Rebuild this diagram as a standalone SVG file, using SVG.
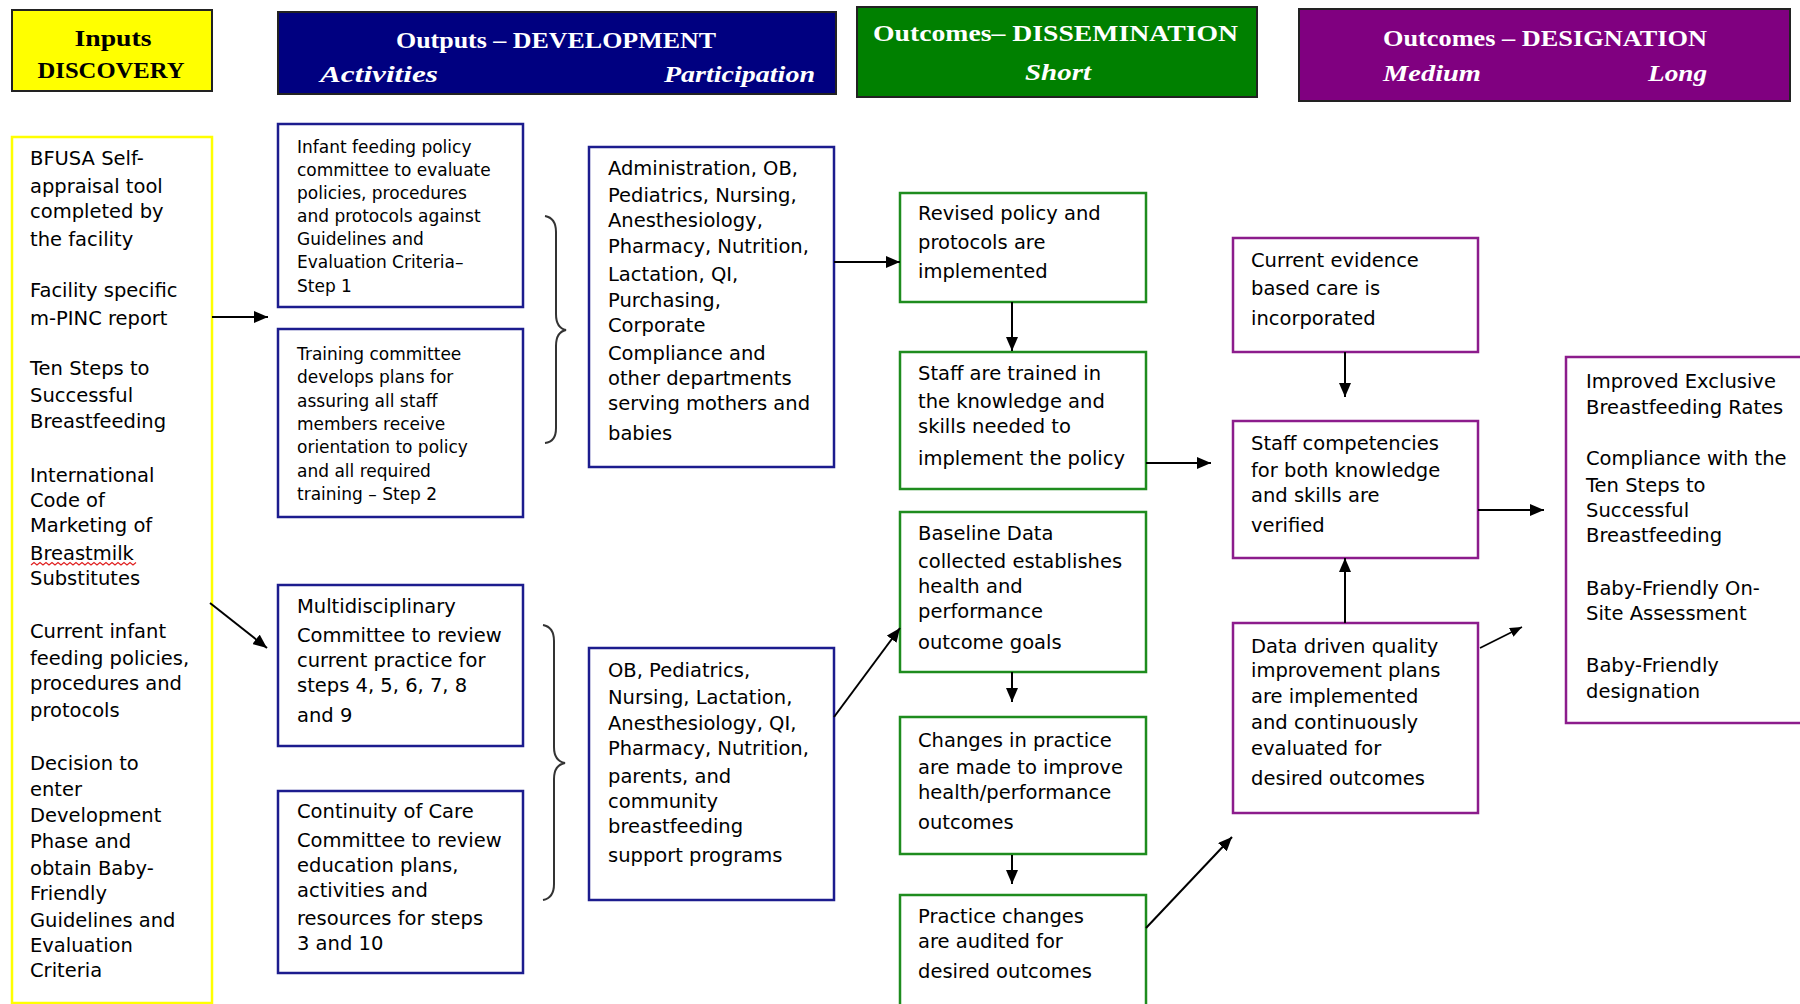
<svg xmlns="http://www.w3.org/2000/svg" width="1800" height="1004" viewBox="0 0 1800 1004">
<style>
.t{font-family:"DejaVu Sans","Liberation Sans",sans-serif;font-size:19.5px;fill:#000}
.ts{font-family:"DejaVu Sans","Liberation Sans",sans-serif;font-size:17px;fill:#000}
.h{font-family:"Liberation Serif","Times New Roman",serif;font-size:24px;font-weight:bold}
.hi{font-family:"Liberation Serif","Times New Roman",serif;font-size:24px;font-weight:bold;font-style:italic}
.w{fill:#fff}
.k{fill:#000}
.bb{fill:#fff;stroke:#1c1c8e;stroke-width:2.5}
.gb{fill:#fff;stroke:#1e8c1e;stroke-width:2.5}
.pb{fill:#fff;stroke:#8c1c8c;stroke-width:2.5}
.yb{fill:#fff;stroke:#ffff00;stroke-width:2.5}
.hb{stroke:#222;stroke-width:2}
.c{fill:none;stroke:#000;stroke-width:2;marker-end:url(#ah)}
.br{fill:none;stroke:#333;stroke-width:2}
</style>
<defs>
<marker id="ah" markerUnits="userSpaceOnUse" markerWidth="15" markerHeight="12" refX="14" refY="6" orient="auto">
<path d="M0,0 L14,6 L0,12 z" fill="#000"/>
</marker>
<marker id="ahs" markerUnits="userSpaceOnUse" markerWidth="13" markerHeight="10" refX="12" refY="5" orient="auto">
<path d="M0,0 L12,5 L0,10 z" fill="#000"/>
</marker>
</defs>
<rect width="1800" height="1004" fill="#fff"/>

<g id="hdr-inputs">
<rect x="12" y="10" width="200" height="81" fill="#ffff00" class="hb"/>
<text class="h k" x="113" y="46" text-anchor="middle" textLength="77" lengthAdjust="spacingAndGlyphs">Inputs</text>
<text class="h k" x="111" y="78" text-anchor="middle" textLength="147" lengthAdjust="spacingAndGlyphs">DISCOVERY</text>
</g>
<g id="hdr-outputs">
<rect x="278" y="12" width="558" height="82" fill="#000080" class="hb"/>
<text class="h w" x="396" y="48" textLength="320" lengthAdjust="spacingAndGlyphs">Outputs – DEVELOPMENT</text>
<text class="hi w" x="320" y="82" textLength="118" lengthAdjust="spacingAndGlyphs">Activities</text>
<text class="hi w" x="664" y="82" textLength="151" lengthAdjust="spacingAndGlyphs">Participation</text>
</g>
<g id="hdr-short">
<rect x="857" y="7" width="400" height="90" fill="#008000" class="hb"/>
<text class="h w" x="873" y="41" textLength="365" lengthAdjust="spacingAndGlyphs">Outcomes– DISSEMINATION</text>
<text class="hi w" x="1025" y="80" textLength="66" lengthAdjust="spacingAndGlyphs">Short</text>
</g>
<g id="hdr-designation">
<rect x="1299" y="9" width="491" height="92" fill="#800080" class="hb"/>
<text class="h w" x="1383" y="46" textLength="324" lengthAdjust="spacingAndGlyphs">Outcomes – DESIGNATION</text>
<text class="hi w" x="1383" y="81" textLength="98" lengthAdjust="spacingAndGlyphs">Medium</text>
<text class="hi w" x="1648" y="81" textLength="59" lengthAdjust="spacingAndGlyphs">Long</text>
</g>

<g id="inputs">
<rect x="12" y="137" width="200" height="866" class="yb"/>
<text class="t">
<tspan x="30" y="165">BFUSA Self-</tspan>
<tspan x="30" y="193">appraisal tool</tspan>
<tspan x="30" y="218">completed by</tspan>
<tspan x="30" y="246">the facility</tspan>
<tspan x="30" y="297">Facility specific</tspan>
<tspan x="30" y="325">m-PINC report</tspan>
<tspan x="30" y="375">Ten  Steps to</tspan>
<tspan x="30" y="402">Successful</tspan>
<tspan x="30" y="428">Breastfeeding</tspan>
<tspan x="30" y="482">International</tspan>
<tspan x="30" y="507">Code of</tspan>
<tspan x="30" y="532">Marketing of</tspan>
<tspan x="30" y="560">Breastmilk</tspan>
<tspan x="30" y="585">Substitutes</tspan>
<tspan x="30" y="638">Current infant</tspan>
<tspan x="30" y="665">feeding policies,</tspan>
<tspan x="30" y="690">procedures and</tspan>
<tspan x="30" y="717">protocols</tspan>
<tspan x="30" y="770">Decision to</tspan>
<tspan x="30" y="796">enter</tspan>
<tspan x="30" y="822">Development</tspan>
<tspan x="30" y="848">Phase and</tspan>
<tspan x="30" y="875">obtain  Baby-</tspan>
<tspan x="30" y="900">Friendly</tspan>
<tspan x="30" y="927">Guidelines and</tspan>
<tspan x="30" y="952">Evaluation</tspan>
<tspan x="30" y="977">Criteria</tspan>
</text>
<path d="M31,565 l3,-2.5 l3,2.5 l3,-2.5 l3,2.5 l3,-2.5 l3,2.5 l3,-2.5 l3,2.5 l3,-2.5 l3,2.5 l3,-2.5 l3,2.5 l3,-2.5 l3,2.5 l3,-2.5 l3,2.5 l3,-2.5 l3,2.5 l3,-2.5 l3,2.5 l3,-2.5 l3,2.5 l3,-2.5 l3,2.5 l3,-2.5 l3,2.5 l3,-2.5 l3,2.5 l3,-2.5 l3,2.5 l3,-2.5 l3,2.5 l3,-2.5 l3,2.5 l3,-2.5" fill="none" stroke="#e02020" stroke-width="1.2"/>
</g>

<g id="act1">
<rect x="278" y="124" width="245" height="183" class="bb"/>
<text class="ts">
<tspan x="297" y="153">Infant feeding policy</tspan>
<tspan x="297" y="176">committee to evaluate</tspan>
<tspan x="297" y="199">policies, procedures</tspan>
<tspan x="297" y="222">and protocols against</tspan>
<tspan x="297" y="245">Guidelines and</tspan>
<tspan x="297" y="268">Evaluation Criteria–</tspan>
<tspan x="297" y="292">Step 1</tspan>
</text>
</g>
<g id="act2">
<rect x="278" y="329" width="245" height="188" class="bb"/>
<text class="ts">
<tspan x="297" y="360">Training committee</tspan>
<tspan x="297" y="383">develops plans for</tspan>
<tspan x="297" y="407">assuring all staff</tspan>
<tspan x="297" y="430">members receive</tspan>
<tspan x="297" y="453">orientation to policy</tspan>
<tspan x="297" y="477">and all required</tspan>
<tspan x="297" y="500">training – Step 2</tspan>
</text>
</g>
<g id="act3">
<rect x="278" y="585" width="245" height="161" class="bb"/>
<text class="t">
<tspan x="297" y="613">Multidisciplinary</tspan>
<tspan x="297" y="642">Committee to review</tspan>
<tspan x="297" y="667">current practice for</tspan>
<tspan x="297" y="692">steps 4, 5, 6, 7, 8</tspan>
<tspan x="297" y="722">and 9</tspan>
</text>
</g>
<g id="act4">
<rect x="278" y="791" width="245" height="182" class="bb"/>
<text class="t">
<tspan x="297" y="818">Continuity of Care</tspan>
<tspan x="297" y="847">Committee to review</tspan>
<tspan x="297" y="872">education plans,</tspan>
<tspan x="297" y="897">activities and</tspan>
<tspan x="297" y="925">resources for steps</tspan>
<tspan x="297" y="950">3 and 10</tspan>
</text>
</g>

<g id="part1">
<rect x="589" y="147" width="245" height="320" class="bb"/>
<text class="t">
<tspan x="608" y="175">Administration, OB,</tspan>
<tspan x="608" y="202">Pediatrics, Nursing,</tspan>
<tspan x="608" y="227">Anesthesiology,</tspan>
<tspan x="608" y="253">Pharmacy, Nutrition,</tspan>
<tspan x="608" y="281">Lactation, QI,</tspan>
<tspan x="608" y="307">Purchasing,</tspan>
<tspan x="608" y="332">Corporate</tspan>
<tspan x="608" y="360">Compliance and</tspan>
<tspan x="608" y="385">other departments</tspan>
<tspan x="608" y="410">serving mothers and</tspan>
<tspan x="608" y="440">babies</tspan>
</text>
</g>
<g id="part2">
<rect x="589" y="648" width="245" height="252" class="bb"/>
<text class="t">
<tspan x="608" y="677">OB, Pediatrics,</tspan>
<tspan x="608" y="704">Nursing, Lactation,</tspan>
<tspan x="608" y="730">Anesthesiology, QI,</tspan>
<tspan x="608" y="755">Pharmacy, Nutrition,</tspan>
<tspan x="608" y="783">parents, and</tspan>
<tspan x="608" y="808">community</tspan>
<tspan x="608" y="833">breastfeeding</tspan>
<tspan x="608" y="862">support programs</tspan>
</text>
</g>

<g id="s-revised">
<rect x="900" y="193" width="246" height="109" class="gb"/>
<text class="t">
<tspan x="918" y="220">Revised policy and</tspan>
<tspan x="918" y="249">protocols are</tspan>
<tspan x="918" y="278">implemented</tspan>
</text>
</g>
<g id="s-trained">
<rect x="900" y="352" width="246" height="137" class="gb"/>
<text class="t">
<tspan x="918" y="380">Staff are trained in</tspan>
<tspan x="918" y="408">the knowledge and</tspan>
<tspan x="918" y="433">skills needed to</tspan>
<tspan x="918" y="465">implement the policy</tspan>
</text>
</g>
<g id="s-baseline">
<rect x="900" y="512" width="246" height="160" class="gb"/>
<text class="t">
<tspan x="918" y="540">Baseline  Data</tspan>
<tspan x="918" y="568">collected establishes</tspan>
<tspan x="918" y="593">health and</tspan>
<tspan x="918" y="618">performance</tspan>
<tspan x="918" y="649">outcome goals</tspan>
</text>
</g>
<g id="s-changes">
<rect x="900" y="717" width="246" height="137" class="gb"/>
<text class="t">
<tspan x="918" y="747">Changes in practice</tspan>
<tspan x="918" y="774">are made to improve</tspan>
<tspan x="918" y="799">health/performance</tspan>
<tspan x="918" y="829">outcomes</tspan>
</text>
</g>
<g id="s-audited">
<rect x="900" y="895" width="246" height="120" class="gb"/>
<text class="t">
<tspan x="918" y="923">Practice changes</tspan>
<tspan x="918" y="948">are audited for</tspan>
<tspan x="918" y="978">desired outcomes</tspan>
</text>
</g>

<g id="m-evidence">
<rect x="1233" y="238" width="245" height="114" class="pb"/>
<text class="t">
<tspan x="1251" y="267">Current evidence</tspan>
<tspan x="1251" y="295">based care is</tspan>
<tspan x="1251" y="325">incorporated</tspan>
</text>
</g>
<g id="m-competencies">
<rect x="1233" y="421" width="245" height="137" class="pb"/>
<text class="t">
<tspan x="1251" y="450">Staff competencies</tspan>
<tspan x="1251" y="477">for both knowledge</tspan>
<tspan x="1251" y="502">and skills are</tspan>
<tspan x="1251" y="532">verified</tspan>
</text>
</g>
<g id="m-datadriven">
<rect x="1233" y="623" width="245" height="190" class="pb"/>
<text class="t">
<tspan x="1251" y="653">Data driven quality</tspan>
<tspan x="1251" y="677">improvement plans</tspan>
<tspan x="1251" y="703">are implemented</tspan>
<tspan x="1251" y="729">and continuously</tspan>
<tspan x="1251" y="755">evaluated for</tspan>
<tspan x="1251" y="785">desired outcomes</tspan>
</text>
</g>

<g id="l-long">
<rect x="1566" y="357" width="250" height="366" class="pb"/>
<text class="t">
<tspan x="1586" y="388">Improved Exclusive</tspan>
<tspan x="1586" y="414">Breastfeeding Rates</tspan>
<tspan x="1586" y="465">Compliance with the</tspan>
<tspan x="1586" y="492">Ten  Steps to</tspan>
<tspan x="1586" y="517">Successful</tspan>
<tspan x="1586" y="542">Breastfeeding</tspan>
<tspan x="1586" y="595">Baby-Friendly On-</tspan>
<tspan x="1586" y="620">Site Assessment</tspan>
<tspan x="1586" y="672">Baby-Friendly</tspan>
<tspan x="1586" y="698">designation</tspan>
</text>
</g>

<g id="connectors">
<path class="br" d="M545,216 Q556,218 556,232 L556,314 Q556,328 566,330 Q556,332 556,346 L556,428 Q556,442 545,443"/>
<path class="br" d="M543,625 Q554,627 554,641 L554,747 Q554,761 565,763 Q554,765 554,779 L554,884 Q554,898 543,900"/>
<line class="c" x1="212" y1="317" x2="268" y2="317"/>
<line class="c" x1="210" y1="603" x2="267" y2="648"/>
<line class="c" x1="834" y1="262" x2="900" y2="262"/>
<line class="c" x1="834" y1="717" x2="900" y2="628"/>
<line class="c" x1="1012" y1="302" x2="1012" y2="351"/>
<line class="c" x1="1146" y1="463" x2="1211" y2="463"/>
<line class="c" x1="1012" y1="672" x2="1012" y2="702"/>
<line class="c" x1="1012" y1="855" x2="1012" y2="884"/>
<line class="c" x1="1146" y1="928" x2="1232" y2="837"/>
<line class="c" x1="1345" y1="352" x2="1345" y2="397"/>
<line class="c" x1="1345" y1="623" x2="1345" y2="558"/>
<line class="c" x1="1478" y1="510" x2="1544" y2="510"/>
<line x1="1480" y1="648" x2="1522" y2="627" fill="none" stroke="#000" stroke-width="1.6" marker-end="url(#ahs)"/>
</g>
</svg>
